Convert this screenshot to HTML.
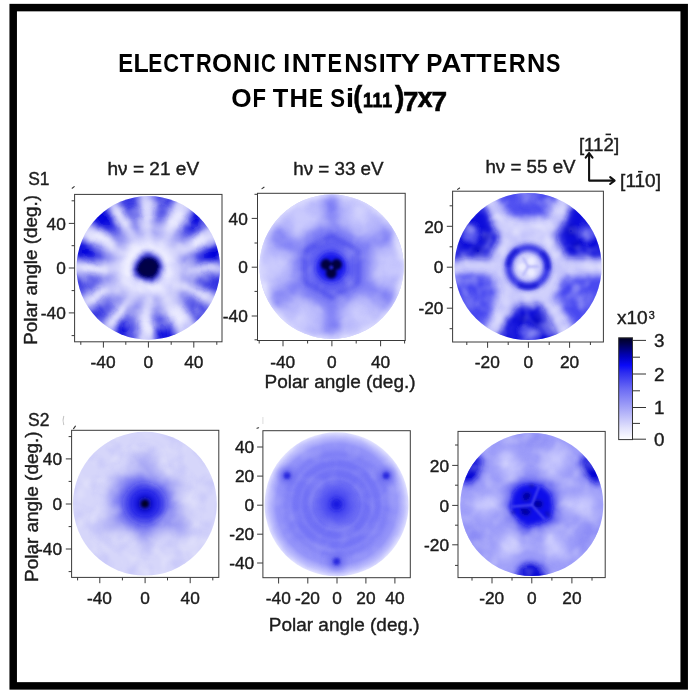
<!DOCTYPE html>
<html><head><meta charset="utf-8"><title>Electronic intensity patterns of the Si(111)7x7</title>
<style>
html,body{margin:0;padding:0;background:#fff;}
body{width:692px;height:699px;overflow:hidden;}
svg{display:block;font-family:"Liberation Sans",sans-serif;}
text{fill:#1c1c1c;stroke:#1c1c1c;stroke-width:0.4px;}
.b{font-weight:bold;fill:#000;stroke:none;}
.b2{font-weight:bold;fill:#000;stroke:#000;stroke-width:0.7px;}
</style></head><body>
<svg width="692" height="699" viewBox="0 0 692 699">
<rect width="692" height="699" fill="#fff"/>
<g style="opacity:0.999">

<defs>
<filter id="bl0_8" x="-50%" y="-50%" width="200%" height="200%"><feGaussianBlur stdDeviation="0.8"/></filter>
<filter id="bl1_5" x="-50%" y="-50%" width="200%" height="200%"><feGaussianBlur stdDeviation="1.5"/></filter>
<filter id="bl2_5" x="-50%" y="-50%" width="200%" height="200%"><feGaussianBlur stdDeviation="2.5"/></filter>
<filter id="bl3_5" x="-50%" y="-50%" width="200%" height="200%"><feGaussianBlur stdDeviation="3.5"/></filter>
<filter id="bl5" x="-50%" y="-50%" width="200%" height="200%"><feGaussianBlur stdDeviation="5"/></filter>
<filter id="bl7" x="-50%" y="-50%" width="200%" height="200%"><feGaussianBlur stdDeviation="7"/></filter>
<clipPath id="cp1"><circle cx="148.3" cy="267.9" r="71.8"/></clipPath>
<clipPath id="cp2"><circle cx="331.6" cy="266.7" r="72.1"/></clipPath>
<clipPath id="cp3"><circle cx="528.1" cy="266.5" r="73.6"/></clipPath>
<clipPath id="cp4"><circle cx="144.9" cy="503.7" r="71.9"/></clipPath>
<clipPath id="cp5"><circle cx="336.6" cy="504.3" r="72.0"/></clipPath>
<clipPath id="cp6"><circle cx="531.8" cy="504.5" r="71.5"/></clipPath>
<filter id="wob" x="-30%" y="-30%" width="160%" height="160%"><feTurbulence type="fractalNoise" baseFrequency="0.045" numOctaves="1" seed="7" result="t"/><feDisplacementMap in="SourceGraphic" in2="t" scale="9" xChannelSelector="R" yChannelSelector="G"/><feGaussianBlur stdDeviation="0.9"/></filter>
<filter id="wob2" x="-30%" y="-30%" width="160%" height="160%"><feTurbulence type="fractalNoise" baseFrequency="0.035" numOctaves="1" seed="11" result="t"/><feDisplacementMap in="SourceGraphic" in2="t" scale="12" xChannelSelector="R" yChannelSelector="G"/><feGaussianBlur stdDeviation="0.9"/></filter>
<filter id="cloudW" x="0" y="0" width="100%" height="100%"><feTurbulence type="fractalNoise" baseFrequency="0.065" numOctaves="2" seed="5"/><feColorMatrix type="matrix" values="0 0 0 0 1  0 0 0 0 1  0 0 0 0 1  3.2 0 0 0 -1.45"/><feGaussianBlur stdDeviation="1.1"/></filter>
<filter id="cloudB" x="0" y="0" width="100%" height="100%"><feTurbulence type="fractalNoise" baseFrequency="0.065" numOctaves="2" seed="23"/><feColorMatrix type="matrix" values="0 0 0 0 0.25  0 0 0 0 0.25  0 0 0 0 0.95  3.2 0 0 0 -1.5"/><feGaussianBlur stdDeviation="1.1"/></filter>
<radialGradient id="rg1" gradientUnits="userSpaceOnUse" cx="148.3" cy="267.9" r="71.8"><stop offset="0.36" stop-color="#1010de" stop-opacity="0"/><stop offset="0.55" stop-color="#1010de" stop-opacity="0.33"/><stop offset="0.72" stop-color="#1010de" stop-opacity="0.8"/><stop offset="0.88" stop-color="#0c0cdc" stop-opacity="1"/><stop offset="1" stop-color="#0c0cdc" stop-opacity="1"/></radialGradient>
<radialGradient id="rg2" gradientUnits="userSpaceOnUse" cx="331.6" cy="266.7" r="72.1"><stop offset="0.36" stop-color="#1010de" stop-opacity="0"/><stop offset="0.55" stop-color="#1010de" stop-opacity="0.33"/><stop offset="0.72" stop-color="#1010de" stop-opacity="0.8"/><stop offset="0.88" stop-color="#0c0cdc" stop-opacity="1"/><stop offset="1" stop-color="#0c0cdc" stop-opacity="1"/></radialGradient>
<radialGradient id="rg3" gradientUnits="userSpaceOnUse" cx="528.1" cy="266.5" r="73.6"><stop offset="0.36" stop-color="#1010de" stop-opacity="0"/><stop offset="0.55" stop-color="#1010de" stop-opacity="0.33"/><stop offset="0.72" stop-color="#1010de" stop-opacity="0.8"/><stop offset="0.88" stop-color="#0c0cdc" stop-opacity="1"/><stop offset="1" stop-color="#0c0cdc" stop-opacity="1"/></radialGradient>
<radialGradient id="rg4" gradientUnits="userSpaceOnUse" cx="144.9" cy="503.7" r="71.9"><stop offset="0.36" stop-color="#1010de" stop-opacity="0"/><stop offset="0.55" stop-color="#1010de" stop-opacity="0.33"/><stop offset="0.72" stop-color="#1010de" stop-opacity="0.8"/><stop offset="0.88" stop-color="#0c0cdc" stop-opacity="1"/><stop offset="1" stop-color="#0c0cdc" stop-opacity="1"/></radialGradient>
<radialGradient id="rg5" gradientUnits="userSpaceOnUse" cx="336.6" cy="504.3" r="72.0"><stop offset="0.36" stop-color="#1010de" stop-opacity="0"/><stop offset="0.55" stop-color="#1010de" stop-opacity="0.33"/><stop offset="0.72" stop-color="#1010de" stop-opacity="0.8"/><stop offset="0.88" stop-color="#0c0cdc" stop-opacity="1"/><stop offset="1" stop-color="#0c0cdc" stop-opacity="1"/></radialGradient>
<radialGradient id="rg6" gradientUnits="userSpaceOnUse" cx="531.8" cy="504.5" r="71.5"><stop offset="0.36" stop-color="#1010de" stop-opacity="0"/><stop offset="0.55" stop-color="#1010de" stop-opacity="0.33"/><stop offset="0.72" stop-color="#1010de" stop-opacity="0.8"/><stop offset="0.88" stop-color="#0c0cdc" stop-opacity="1"/><stop offset="1" stop-color="#0c0cdc" stop-opacity="1"/></radialGradient>
<radialGradient id="rg5b" gradientUnits="userSpaceOnUse" cx="336.6" cy="504.3" r="72.0"><stop offset="0" stop-color="#5c5cf4"/><stop offset="0.3" stop-color="#6e6ef5"/><stop offset="0.6" stop-color="#7a7af7"/><stop offset="0.84" stop-color="#9696f9"/><stop offset="0.94" stop-color="#c0c0fd"/><stop offset="1" stop-color="#e2e2ff"/></radialGradient>
<linearGradient id="cbar" x1="0" y1="0" x2="0" y2="1">
<stop offset="0" stop-color="#000022"/><stop offset="0.06" stop-color="#000050"/><stop offset="0.17" stop-color="#0000b4"/>
<stop offset="0.27" stop-color="#0a0af8"/><stop offset="0.34" stop-color="#2c2cf0"/><stop offset="0.5" stop-color="#6a6af4"/>
<stop offset="0.7" stop-color="#a8a8f8"/><stop offset="0.88" stop-color="#e0e0fc"/><stop offset="1" stop-color="#ffffff"/></linearGradient>
</defs>
<rect x="13.2" y="7.6" width="671" height="678.3" fill="none" stroke="#000" stroke-width="7.5"/>
<text class="b" transform="translate(119.80,72.0) scale(0.838,1)" x="-1.78" y="0" font-size="26.6">E</text>
<text class="b" transform="translate(135.10,72.0) scale(0.938,1)" x="-1.78" y="0" font-size="26.6">L</text>
<text class="b" transform="translate(149.70,72.0) scale(0.791,1)" x="-1.78" y="0" font-size="26.6">E</text>
<text class="b" transform="translate(164.10,72.0) scale(0.822,1)" x="-1.09" y="0" font-size="26.6">C</text>
<text class="b" transform="translate(180.00,72.0) scale(0.887,1)" x="-0.29" y="0" font-size="26.6">T</text>
<text class="b" transform="translate(197.40,72.0) scale(0.818,1)" x="-1.78" y="0" font-size="26.6">R</text>
<text class="b" transform="translate(213.00,72.0) scale(0.968,1)" x="-1.09" y="0" font-size="26.6">O</text>
<text class="b" transform="translate(234.50,72.0) scale(0.997,1)" x="-1.78" y="0" font-size="26.6">N</text>
<text class="b" transform="translate(254.80,72.0) scale(0.940,1)" x="-1.78" y="0" font-size="26.6">I</text>
<text class="b" transform="translate(261.90,72.0) scale(0.770,1)" x="-1.09" y="0" font-size="26.6">C</text>
<text class="b" transform="translate(284.80,72.0) scale(0.940,1)" x="-1.78" y="0" font-size="26.6">I</text>
<text class="b" transform="translate(293.50,72.0) scale(0.997,1)" x="-1.78" y="0" font-size="26.6">N</text>
<text class="b" transform="translate(311.70,72.0) scale(0.887,1)" x="-0.29" y="0" font-size="26.6">T</text>
<text class="b" transform="translate(329.00,72.0) scale(0.818,1)" x="-1.78" y="0" font-size="26.6">E</text>
<text class="b" transform="translate(345.90,72.0) scale(0.953,1)" x="-1.78" y="0" font-size="26.6">N</text>
<text class="b" transform="translate(364.10,72.0) scale(0.772,1)" x="-0.77" y="0" font-size="26.6">S</text>
<text class="b" transform="translate(380.40,72.0) scale(0.940,1)" x="-1.78" y="0" font-size="26.6">I</text>
<text class="b" transform="translate(386.20,72.0) scale(0.951,1)" x="-0.29" y="0" font-size="26.6">T</text>
<text class="b" transform="translate(400.90,72.0) scale(1.109,1)" x="-0.45" y="0" font-size="26.6">Y</text>
<text class="b" transform="translate(427.90,72.0) scale(0.910,1)" x="-1.78" y="0" font-size="26.6">P</text>
<text class="b" transform="translate(441.90,72.0) scale(1.059,1)" x="-0.67" y="0" font-size="26.6">A</text>
<text class="b" transform="translate(460.80,72.0) scale(0.951,1)" x="-0.29" y="0" font-size="26.6">T</text>
<text class="b" transform="translate(476.40,72.0) scale(0.957,1)" x="-0.29" y="0" font-size="26.6">T</text>
<text class="b" transform="translate(494.50,72.0) scale(0.797,1)" x="-1.78" y="0" font-size="26.6">E</text>
<text class="b" transform="translate(510.40,72.0) scale(0.884,1)" x="-1.78" y="0" font-size="26.6">R</text>
<text class="b" transform="translate(528.60,72.0) scale(0.953,1)" x="-1.78" y="0" font-size="26.6">N</text>
<text class="b" transform="translate(546.60,72.0) scale(0.810,1)" x="-0.77" y="0" font-size="26.6">S</text>
<text class="b" transform="translate(232.20,106.9) scale(0.984,1)" x="-1.09" y="0" font-size="26.6">O</text>
<text class="b" transform="translate(253.90,106.9) scale(0.830,1)" x="-1.78" y="0" font-size="26.6">F</text>
<text class="b" transform="translate(273.10,106.9) scale(0.957,1)" x="-0.29" y="0" font-size="26.6">T</text>
<text class="b" transform="translate(291.30,106.9) scale(0.959,1)" x="-1.78" y="0" font-size="26.6">H</text>
<text class="b" transform="translate(310.40,106.9) scale(0.784,1)" x="-1.78" y="0" font-size="26.6">E</text>
<text class="b" transform="translate(331.00,106.9) scale(0.835,1)" x="-0.77" y="0" font-size="26.6">S</text>
<text class="b" transform="translate(348.00,106.9) scale(1.153,1)" x="-1.86" y="0" font-size="26.6">i</text>
<text class="b" transform="translate(354.70,106.9) scale(0.892,1)" x="-1.51" y="0" font-size="30.2" style="stroke:#000;stroke-width:0.5px">(</text>
<text class="b" transform="translate(364.00,106.8) scale(0.866,1)" x="-1.30" y="0" font-size="20.6" style="stroke:#000;stroke-width:0.8px">1</text>
<text class="b" transform="translate(373.70,106.8) scale(0.866,1)" x="-1.30" y="0" font-size="20.6" style="stroke:#000;stroke-width:0.8px">1</text>
<text class="b" transform="translate(383.40,106.8) scale(0.866,1)" x="-1.30" y="0" font-size="20.6" style="stroke:#000;stroke-width:0.8px">1</text>
<text class="b" transform="translate(394.90,106.9) scale(0.939,1)" x="-0.03" y="0" font-size="30.2" style="stroke:#000;stroke-width:0.5px">)</text>
<text class="b" transform="translate(404.20,111.3) scale(1.027,1)" x="-1.16" y="0" font-size="27.0" style="stroke:#000;stroke-width:0.5px">7</text>
<text class="b" transform="translate(417.90,106.8) scale(0.972,1)" x="-0.19" y="0" font-size="27.2" style="stroke:#000;stroke-width:0.7px">x</text>
<text class="b" transform="translate(432.80,111.3) scale(1.042,1)" x="-1.16" y="0" font-size="27.0" style="stroke:#000;stroke-width:0.5px">7</text>
<text x="107.5" y="174.6" font-size="18.8" textLength="91.6" lengthAdjust="spacingAndGlyphs">hν = 21 eV</text>
<text x="293.2" y="174.6" font-size="18.8" textLength="90.4" lengthAdjust="spacingAndGlyphs">hν = 33 eV</text>
<text x="485.4" y="173.3" font-size="18.8" textLength="90.2" lengthAdjust="spacingAndGlyphs">hν = 55 eV</text>
<text x="28.2" y="184.8" font-size="18.6" textLength="21.3" lengthAdjust="spacingAndGlyphs">S1</text>
<text x="28.1" y="425.5" font-size="18.6" textLength="21.4" lengthAdjust="spacingAndGlyphs">S2</text>
<g fill="none" stroke="#111" stroke-width="2.1" stroke-linecap="round" stroke-linejoin="round"><path d="M589.1,153.6V180.6H613.6"/><path d="M585.7,157.6L589.1,153.2L592.5,157.6"/><path d="M610.2,177.2L614.6,180.6L610.2,184"/></g>
<text x="578.9" y="150.6" font-size="17.8" textLength="40.2" lengthAdjust="spacingAndGlyphs">[112]</text>
<rect x="605.6" y="133.6" width="5.4" height="1.6" fill="#1c1c1c"/>
<text x="620.1" y="187.3" font-size="17.8" textLength="40.9" lengthAdjust="spacingAndGlyphs">[110]</text>
<rect x="638.0" y="170.9" width="4.6" height="1.6" fill="#1c1c1c"/>
<path d="M72.2,188.2l2,-1.6M262,188.6l2,-1.4M457.6,189.4l2,-1.4M73.6,428.6l1.8,-2.4M257,428.3l1.6,-0.6" stroke="#333" stroke-width="1.1" fill="none" stroke-linecap="round"/>
<path d="M63.8,416Q62.2,420.5 63.8,425" stroke="#c4c4c4" stroke-width="1.1" fill="none"/>
<path d="M262.9,417v7" stroke="#dcdcdc" stroke-width="1" fill="none"/>
<rect x="74.6" y="194.4" width="147.4" height="147.4" fill="#fff" stroke="#3a3a3a" stroke-width="1"/>
<path d="M103.4,341.8v5.8M148.4,341.8v5.8M193.8,341.8v5.8M80.8,341.8v3.0M125.8,341.8v3.0M171.2,341.8v3.0M216.8,341.8v3.0M74.6,223.4h-5.8M74.6,268h-5.8M74.6,312.9h-5.8M74.6,200.8h-3.0M74.6,245.7h-3.0M74.6,290.6h-3.0M74.6,335.6h-3.0" stroke="#3a3a3a" stroke-width="1" fill="none"/>
<text x="103.10000000000001" y="368.2" font-size="17.3" text-anchor="middle">-40</text>
<text x="148.4" y="368.2" font-size="17.3" text-anchor="middle">0</text>
<text x="193.8" y="368.2" font-size="17.3" text-anchor="middle">40</text>
<text x="65.8" y="229.6" font-size="17.3" text-anchor="end">40</text>
<text x="65.8" y="274.2" font-size="17.3" text-anchor="end">0</text>
<text x="65.8" y="319.09999999999997" font-size="17.3" text-anchor="end">-40</text>
<rect x="257.5" y="193.3" width="147.7" height="147.2" fill="#fff" stroke="#3a3a3a" stroke-width="1"/>
<path d="M283,340.5v5.8M331.9,340.5v5.8M380.6,340.5v5.8M259.2,340.5v3.0M307.6,340.5v3.0M356.2,340.5v3.0M404.6,340.5v3.0M257.5,218.4h-5.8M257.5,267.2h-5.8M257.5,316h-5.8M257.5,194.3h-3.0M257.5,243h-3.0M257.5,291.4h-3.0M257.5,339.8h-3.0" stroke="#3a3a3a" stroke-width="1" fill="none"/>
<text x="282.7" y="367.8" font-size="17.3" text-anchor="middle">-40</text>
<text x="331.9" y="367.8" font-size="17.3" text-anchor="middle">0</text>
<text x="380.6" y="367.8" font-size="17.3" text-anchor="middle">40</text>
<text x="247.8" y="224.6" font-size="17.3" text-anchor="end">40</text>
<text x="247.8" y="273.4" font-size="17.3" text-anchor="end">0</text>
<text x="247.8" y="322.2" font-size="17.3" text-anchor="end">-40</text>
<rect x="452.6" y="191.2" width="150.8" height="150.8" fill="#fff" stroke="#3a3a3a" stroke-width="1"/>
<path d="M487.6,342.0v5.8M528.4,342.0v5.8M569.6,342.0v5.8M466.8,342.0v3.0M508.2,342.0v3.0M549.2,342.0v3.0M590.4,342.0v3.0M452.6,226.3h-5.8M452.6,267.2h-5.8M452.6,308.2h-5.8M452.6,205.8h-3.0M452.6,246.8h-3.0M452.6,287.7h-3.0M452.6,328.7h-3.0" stroke="#3a3a3a" stroke-width="1" fill="none"/>
<text x="487.3" y="368.2" font-size="17.3" text-anchor="middle">-20</text>
<text x="528.4" y="368.2" font-size="17.3" text-anchor="middle">0</text>
<text x="569.6" y="368.2" font-size="17.3" text-anchor="middle">20</text>
<text x="443.4" y="232.5" font-size="17.3" text-anchor="end">20</text>
<text x="443.4" y="273.4" font-size="17.3" text-anchor="end">0</text>
<text x="443.4" y="314.4" font-size="17.3" text-anchor="end">-20</text>
<rect x="71.6" y="430.3" width="147.2" height="147.1" fill="#fff" stroke="#3a3a3a" stroke-width="1"/>
<path d="M99.8,577.4v5.8M145.1,577.4v5.8M190.2,577.4v5.8M77.6,577.4v3.0M122.4,577.4v3.0M167.5,577.4v3.0M212.8,577.4v3.0M71.6,458.9h-5.8M71.6,504h-5.8M71.6,549h-5.8M71.6,436.6h-3.0M71.6,481.4h-3.0M71.6,526.6h-3.0M71.6,571.6h-3.0" stroke="#3a3a3a" stroke-width="1" fill="none"/>
<text x="99.5" y="603.5" font-size="17.3" text-anchor="middle">-40</text>
<text x="145.1" y="603.5" font-size="17.3" text-anchor="middle">0</text>
<text x="190.2" y="603.5" font-size="17.3" text-anchor="middle">40</text>
<text x="62.0" y="465.09999999999997" font-size="17.3" text-anchor="end">40</text>
<text x="62.0" y="510.2" font-size="17.3" text-anchor="end">0</text>
<text x="62.0" y="555.2" font-size="17.3" text-anchor="end">-40</text>
<rect x="262.9" y="430.7" width="147.4" height="147.0" fill="#fff" stroke="#3a3a3a" stroke-width="1"/>
<path d="M278.6,577.7v5.8M307.8,577.7v5.8M337.0,577.7v5.8M365.9,577.7v5.8M394.9,577.7v5.8M262.9,447.0h-5.8M262.9,476.1h-5.8M262.9,505.2h-5.8M262.9,534.2h-5.8M262.9,563.0h-5.8" stroke="#3a3a3a" stroke-width="1" fill="none"/>
<text x="278.3" y="603.5" font-size="17.3" text-anchor="middle">-40</text>
<text x="307.5" y="603.5" font-size="17.3" text-anchor="middle">-20</text>
<text x="337.0" y="603.5" font-size="17.3" text-anchor="middle">0</text>
<text x="365.9" y="603.5" font-size="17.3" text-anchor="middle">20</text>
<text x="394.9" y="603.5" font-size="17.3" text-anchor="middle">40</text>
<text x="254.2" y="453.2" font-size="17.3" text-anchor="end">40</text>
<text x="254.2" y="482.3" font-size="17.3" text-anchor="end">20</text>
<text x="254.2" y="511.4" font-size="17.3" text-anchor="end">0</text>
<text x="254.2" y="540.4000000000001" font-size="17.3" text-anchor="end">-20</text>
<text x="254.2" y="569.2" font-size="17.3" text-anchor="end">-40</text>
<rect x="458.0" y="431.4" width="147.2" height="146.2" fill="#fff" stroke="#3a3a3a" stroke-width="1"/>
<path d="M492,577.6v5.8M531.8,577.6v5.8M571.9,577.6v5.8M472,577.6v3.0M512,577.6v3.0M551.9,577.6v3.0M592,577.6v3.0M458.0,465.4h-5.8M458.0,505.4h-5.8M458.0,544.8h-5.8M458.0,445h-3.0M458.0,485.2h-3.0M458.0,525.2h-3.0M458.0,565.4h-3.0" stroke="#3a3a3a" stroke-width="1" fill="none"/>
<text x="491.7" y="603.5" font-size="17.3" text-anchor="middle">-20</text>
<text x="531.8" y="603.5" font-size="17.3" text-anchor="middle">0</text>
<text x="571.9" y="603.5" font-size="17.3" text-anchor="middle">20</text>
<text x="449.1" y="471.59999999999997" font-size="17.3" text-anchor="end">20</text>
<text x="449.1" y="511.59999999999997" font-size="17.3" text-anchor="end">0</text>
<text x="449.1" y="551.0" font-size="17.3" text-anchor="end">-20</text>
<text x="264.6" y="387.8" font-size="19.2" textLength="151" lengthAdjust="spacingAndGlyphs">Polar angle (deg.)</text>
<text x="268.8" y="631.4" font-size="19.2" textLength="150.8" lengthAdjust="spacingAndGlyphs">Polar angle (deg.)</text>
<text transform="translate(37.4,344.7) rotate(-90)" font-size="18.8" textLength="149.6" lengthAdjust="spacingAndGlyphs">Polar angle (deg.)</text>
<text transform="translate(37.5,582.0) rotate(-90)" font-size="18.8" textLength="150.6" lengthAdjust="spacingAndGlyphs">Polar angle (deg.)</text>
<rect x="618.7" y="337.8" width="13.8" height="101.8" fill="url(#cbar)" stroke="#333" stroke-width="1"/>
<path d="M632.6,340.4h13.4M632.6,374h13.4M632.6,407.5h13.4M632.6,439.2h13.4M632.6,357.2h7.4M632.6,390.8h7.4M632.6,423.4h7.4" stroke="#333" stroke-width="1" fill="none"/>
<text x="654.0" y="347.09999999999997" font-size="18.8">3</text>
<text x="654.0" y="380.7" font-size="18.8">2</text>
<text x="654.0" y="414.2" font-size="18.8">1</text>
<text x="654.0" y="445.9" font-size="18.8">0</text>
<text x="616.9" y="323.9" font-size="19" textLength="30.8" lengthAdjust="spacingAndGlyphs">x10</text>
<text x="648.7" y="318.7" font-size="10.8">3</text>
<g clip-path="url(#cp1)">
<circle cx="148.3" cy="267.9" r="72.8" fill="#ececff"/>
<g filter="url(#wob)">
<g filter="url(#bl5)">
<circle cx="148.3" cy="267.9" r="72.8" fill="none" stroke="#b0b0f8" stroke-width="7"/>
<circle cx="148.3" cy="267.9" r="35.9" fill="none" stroke="#d6d6fc" stroke-width="16"/>
</g>
<g filter="url(#bl3_5)">
<path d="M174.1,266.1L234.3,261.9A86.2,86.2 0 0 0 229.3,238.4L172.6,259.1A25.8,25.8 0 0 1 174.1,266.1Z" fill="url(#rg1)" opacity="1.0"/>
<path d="M169.2,252.7L218.0,217.3A86.2,86.2 0 0 0 201.3,200.0L164.2,247.5A25.8,25.8 0 0 1 169.2,252.7Z" fill="url(#rg1)" opacity="0.95"/>
<path d="M157.6,243.8L179.2,187.5A86.2,86.2 0 0 0 155.8,182.1L150.6,242.2A25.8,25.8 0 0 1 157.6,243.8Z" fill="url(#rg1)" opacity="0.8"/>
<path d="M144.7,242.3L136.3,182.6A86.2,86.2 0 0 0 113.3,189.2L137.8,244.3A25.8,25.8 0 0 1 144.7,242.3Z" fill="url(#rg1)" opacity="0.8"/>
<path d="M133.5,246.7L98.9,197.3A86.2,86.2 0 0 0 81.3,213.7L128.2,251.6A25.8,25.8 0 0 1 133.5,246.7Z" fill="url(#rg1)" opacity="1.0"/>
<path d="M124.5,257.8L69.0,234.2A86.2,86.2 0 0 0 62.8,257.4L122.6,264.7A25.8,25.8 0 0 1 124.5,257.8Z" fill="url(#rg1)" opacity="0.92"/>
<path d="M122.6,271.1L62.8,278.4A86.2,86.2 0 0 0 69.0,301.6L124.5,278.0A25.8,25.8 0 0 1 122.6,271.1Z" fill="url(#rg1)" opacity="0.75"/>
<path d="M127.1,282.7L77.7,317.3A86.2,86.2 0 0 0 94.1,334.9L132.0,288.0A25.8,25.8 0 0 1 127.1,282.7Z" fill="url(#rg1)" opacity="0.78"/>
<path d="M136.6,290.9L109.2,344.7A86.2,86.2 0 0 0 131.9,352.5L143.4,293.3A25.8,25.8 0 0 1 136.6,290.9Z" fill="url(#rg1)" opacity="0.92"/>
<path d="M151.0,293.6L157.3,353.6A86.2,86.2 0 0 0 180.6,347.8L158.0,291.9A25.8,25.8 0 0 1 151.0,293.6Z" fill="url(#rg1)" opacity="0.97"/>
<path d="M165.3,287.4L204.8,332.9A86.2,86.2 0 0 0 220.6,314.8L170.0,282.0A25.8,25.8 0 0 1 165.3,287.4Z" fill="url(#rg1)" opacity="0.75"/>
<path d="M172.3,277.6L228.2,300.2A86.2,86.2 0 0 0 234.0,276.9L174.0,270.6A25.8,25.8 0 0 1 172.3,277.6Z" fill="url(#rg1)" opacity="0.82"/>
</g>
<g filter="url(#bl2_5)">
<ellipse cx="211.5" cy="254.5" rx="9" ry="4.5" transform="rotate(-12.0 211.5 254.5)" fill="#0808dc" opacity="0.8"/>
<ellipse cx="194.8" cy="223.0" rx="9" ry="4.5" transform="rotate(-44.0 194.8 223.0)" fill="#0808dc" opacity="0.8"/>
<ellipse cx="104.2" cy="220.6" rx="9" ry="4.5" transform="rotate(-133.0 104.2 220.6)" fill="#0808dc" opacity="0.8"/>
<ellipse cx="85.9" cy="251.2" rx="9" ry="4.5" transform="rotate(-165.0 85.9 251.2)" fill="#0808dc" opacity="0.8"/>
<ellipse cx="127.3" cy="329.0" rx="9" ry="4.5" transform="rotate(-251.0 127.3 329.0)" fill="#0808dc" opacity="0.8"/>
<ellipse cx="163.9" cy="330.6" rx="9" ry="4.5" transform="rotate(-284.0 163.9 330.6)" fill="#0808dc" opacity="0.8"/>
</g>
</g>
<rect x="74.5" y="194.1" width="147.6" height="147.6" filter="url(#cloudW)" opacity="0.3"/>
<rect x="74.5" y="194.1" width="147.6" height="147.6" filter="url(#cloudB)" opacity="0.14"/>
<g filter="url(#wob)">
<circle cx="148.3" cy="267.9" r="14.5" fill="#2424dc" filter="url(#bl2_5)"/>
<circle cx="148.3" cy="267.9" r="11" fill="#000046" filter="url(#bl1_5)"/>
</g>
</g>
<g clip-path="url(#cp2)">
<circle cx="331.6" cy="266.7" r="73.1" fill="#b6b6fb"/>
<g filter="url(#wob2)">
<circle cx="331.6" cy="266.7" r="74.1" fill="none" stroke="#e8e8ff" stroke-width="10" filter="url(#bl3_5)"/>
<g filter="url(#bl5)">
<ellipse cx="389.3" cy="266.7" rx="12" ry="11" transform="rotate(0.0 389.3 266.7)" fill="#d2d2fd" opacity="0.75"/>
<ellipse cx="360.4" cy="216.7" rx="12" ry="11" transform="rotate(-60.0 360.4 216.7)" fill="#d2d2fd" opacity="0.75"/>
<ellipse cx="302.8" cy="216.7" rx="12" ry="11" transform="rotate(-120.0 302.8 216.7)" fill="#d2d2fd" opacity="0.75"/>
<ellipse cx="273.9" cy="266.7" rx="12" ry="11" transform="rotate(-180.0 273.9 266.7)" fill="#d2d2fd" opacity="0.75"/>
<ellipse cx="302.8" cy="316.7" rx="12" ry="11" transform="rotate(-240.0 302.8 316.7)" fill="#d2d2fd" opacity="0.75"/>
<ellipse cx="360.4" cy="316.7" rx="12" ry="11" transform="rotate(-300.0 360.4 316.7)" fill="#d2d2fd" opacity="0.75"/>
<path d="M331.6,266.7L392.2,231.7" stroke="#7c7cf6" stroke-width="12" fill="none"/>
<path d="M331.6,266.7L331.6,196.8" stroke="#7c7cf6" stroke-width="12" fill="none"/>
<path d="M331.6,266.7L271.0,231.7" stroke="#7c7cf6" stroke-width="12" fill="none"/>
<path d="M331.6,266.7L271.0,301.7" stroke="#7c7cf6" stroke-width="12" fill="none"/>
<path d="M331.6,266.7L331.6,336.6" stroke="#7c7cf6" stroke-width="12" fill="none"/>
<path d="M331.6,266.7L392.2,301.7" stroke="#7c7cf6" stroke-width="12" fill="none"/>
<circle cx="331.6" cy="266.7" r="41" fill="#7a7af5"/>
</g>
<g filter="url(#bl3_5)">
<circle cx="331.6" cy="266.7" r="25" fill="#5c5cf2"/>
<circle cx="384.0" cy="236.4" r="5" fill="#6e6ef2" opacity="0.5"/>
<circle cx="331.6" cy="206.1" r="5" fill="#6e6ef2" opacity="0.5"/>
<circle cx="279.2" cy="236.4" r="5" fill="#6e6ef2" opacity="0.5"/>
<circle cx="279.2" cy="297.0" r="5" fill="#6e6ef2" opacity="0.5"/>
<circle cx="331.6" cy="327.3" r="5" fill="#6e6ef2" opacity="0.5"/>
<circle cx="384.0" cy="297.0" r="5" fill="#6e6ef2" opacity="0.5"/>
</g>
</g>
<polygon points="358.4,251.2 331.6,235.7 304.8,251.2 304.8,282.2 331.6,297.7 358.4,282.2" fill="none" stroke="#3a3ae8" stroke-width="3.2" filter="url(#bl2_5)" opacity="0.85"/>
<rect x="257.5" y="192.6" width="148.2" height="148.2" filter="url(#cloudW)" opacity="0.15"/>
<rect x="257.5" y="192.6" width="148.2" height="148.2" filter="url(#cloudB)" opacity="0.1"/>
<circle cx="331.3" cy="267.09999999999997" r="15" fill="#1818ee" filter="url(#bl2_5)"/>
<g filter="url(#bl1_5)">
<circle cx="326.1" cy="264.49999999999994" r="5.4" fill="#00003c"/>
<circle cx="336.5" cy="264.49999999999994" r="5.4" fill="#00003c"/>
<circle cx="331.3" cy="273.09999999999997" r="5.4" fill="#00003c"/>
</g>
<circle cx="331.3" cy="267.5" r="2" fill="#2828d0" filter="url(#bl0_8)"/>
</g>
<g clip-path="url(#cp3)">
<circle cx="528.1" cy="266.5" r="74.6" fill="#d0d0fc"/>
<g filter="url(#wob)">
<g filter="url(#bl3_5)">
<path d="M566.8,257.5L645.3,257.5L594.5,169.5L555.2,237.5Z" fill="#1010da" opacity="1"/>
<path d="M546.0,217.5L578.9,160.5L477.3,160.5L510.2,217.5Z" fill="#3a3aee" opacity="0.9"/>
<path d="M501.0,237.5L461.7,169.5L410.9,257.5L489.4,257.5Z" fill="#1010da" opacity="1"/>
<path d="M489.4,275.5L410.9,275.5L461.7,363.5L501.0,295.5Z" fill="#3636ee" opacity="0.9"/>
<path d="M516.6,304.5L477.3,372.5L578.9,372.5L539.6,304.5Z" fill="#1010da" opacity="1"/>
<path d="M555.2,295.5L594.5,363.5L645.3,275.5L566.8,275.5Z" fill="#3636ee" opacity="0.88"/>
</g>
<g filter="url(#bl2_5)">
<ellipse cx="586.7" cy="232.6" rx="7" ry="9" transform="rotate(-30.0 586.7 232.6)" fill="#7070f2" opacity="0.85"/>
<ellipse cx="469.5" cy="232.6" rx="7" ry="9" transform="rotate(-150.0 469.5 232.6)" fill="#7070f2" opacity="0.85"/>
<ellipse cx="528.1" cy="334.2" rx="7" ry="9" transform="rotate(-270.0 528.1 334.2)" fill="#7070f2" opacity="0.85"/>
<ellipse cx="528.1" cy="198.1" rx="6" ry="10" transform="rotate(-90.0 528.1 198.1)" fill="#8a8af4" opacity="0.5"/>
<ellipse cx="468.8" cy="300.7" rx="6" ry="10" transform="rotate(-210.0 468.8 300.7)" fill="#8a8af4" opacity="0.5"/>
<ellipse cx="587.4" cy="300.7" rx="6" ry="10" transform="rotate(-330.0 587.4 300.7)" fill="#8a8af4" opacity="0.5"/>
</g>
<g filter="url(#bl2_5)" fill="#0000b4" opacity="0.55">
<ellipse cx="569.2" cy="230.8" rx="6" ry="4.5" transform="rotate(-41.0 569.2 230.8)" fill="#0000b4" opacity="1"/>
<ellipse cx="576.5" cy="244.9" rx="5" ry="4" transform="rotate(-24.0 576.5 244.9)" fill="#0000b4" opacity="1"/>
<ellipse cx="476.6" cy="248.8" rx="6" ry="4.5" transform="rotate(-161.0 476.6 248.8)" fill="#0000b4" opacity="1"/>
<ellipse cx="485.2" cy="235.4" rx="5" ry="4" transform="rotate(-144.0 485.2 235.4)" fill="#0000b4" opacity="1"/>
<ellipse cx="538.5" cy="320.0" rx="6" ry="4.5" transform="rotate(-281.0 538.5 320.0)" fill="#0000b4" opacity="1"/>
<ellipse cx="522.6" cy="319.2" rx="5" ry="4" transform="rotate(-264.0 522.6 319.2)" fill="#0000b4" opacity="1"/>
</g>
</g>
<rect x="452.5" y="190.9" width="151.2" height="151.2" filter="url(#cloudW)" opacity="0.3"/>
<rect x="452.5" y="190.9" width="151.2" height="151.2" filter="url(#cloudB)" opacity="0.15"/>
<circle cx="528.1" cy="266.9" r="19.3" fill="none" stroke="#2020e2" stroke-width="7.4" filter="url(#bl2_5)" opacity="0.95"/>
<g filter="url(#bl1_5)" fill="none" stroke="#0c0cd0" stroke-width="5" opacity="0.7">
<path d="M517.5,249.9A20,20 0 0 0 508.1,266.2"/>
<path d="M518.7,284.6A20,20 0 0 0 537.5,284.6"/>
<path d="M547.9,269.7A20,20 0 0 0 541.5,252.0"/>
</g>
<circle cx="528.1" cy="266.9" r="11.5" fill="#d4d4fd" filter="url(#bl1_5)" opacity="0.8"/>
<g filter="url(#bl1_5)" fill="#f0f0ff" opacity="0.9">
<circle cx="531.2" cy="261.4" r="4"/>
<circle cx="521.8" cy="266.9" r="4"/>
<circle cx="531.2" cy="272.4" r="4"/>
</g>
<g filter="url(#bl0_8)" stroke="#9c9cf4" stroke-width="1.2" fill="none" opacity="0.8">
<path d="M528.1,266.5L522.6,257.0"/>
<path d="M528.1,266.5L522.6,276.0"/>
<path d="M528.1,266.5L539.1,266.5"/>
</g>
</g>
<g clip-path="url(#cp4)">
<circle cx="144.9" cy="503.7" r="72.9" fill="#d6d6fa"/>
<g filter="url(#wob2)">
<g filter="url(#bl7)">
<path d="M144.9,503.7L144.9,454.8" stroke="#9696f3" stroke-width="15" fill="none"/>
<path d="M144.9,503.7L102.6,528.1" stroke="#9696f3" stroke-width="15" fill="none"/>
<path d="M144.9,503.7L187.2,528.1" stroke="#9696f3" stroke-width="15" fill="none"/>
<path d="M144.9,503.7L181.0,482.8" stroke="#a2a2f4" stroke-width="13" fill="none"/>
<path d="M144.9,503.7L108.8,482.8" stroke="#a2a2f4" stroke-width="13" fill="none"/>
<path d="M144.9,503.7L144.9,545.4" stroke="#a2a2f4" stroke-width="13" fill="none"/>
<circle cx="144.9" cy="503.7" r="30" fill="#6868f0"/>
</g>
</g>
<rect x="71.0" y="429.8" width="147.8" height="147.8" filter="url(#cloudW)" opacity="0.2"/>
<rect x="71.0" y="429.8" width="147.8" height="147.8" filter="url(#cloudB)" opacity="0.16"/>
<circle cx="144.9" cy="503.7" r="18" fill="#1a1ae6" filter="url(#bl5)"/>
<circle cx="144.9" cy="503.7" r="7" fill="#0808b0" filter="url(#bl2_5)"/>
<circle cx="144.9" cy="503.7" r="3.8" fill="#000024" filter="url(#bl1_5)"/>
</g>
<g clip-path="url(#cp5)">
<circle cx="336.6" cy="504.3" r="73.0" fill="url(#rg5b)"/>
<circle cx="336.6" cy="504.3" r="21" fill="none" stroke="#6262f0" stroke-width="2.6" filter="url(#bl1_5)" opacity="0.2"/>
<circle cx="336.6" cy="504.3" r="31" fill="none" stroke="#6262f0" stroke-width="2.6" filter="url(#bl1_5)" opacity="0.2"/>
<circle cx="336.6" cy="504.3" r="41" fill="none" stroke="#6262f0" stroke-width="2.6" filter="url(#bl1_5)" opacity="0.2"/>
<circle cx="336.6" cy="504.3" r="51" fill="none" stroke="#6262f0" stroke-width="2.6" filter="url(#bl1_5)" opacity="0.2"/>
<circle cx="336.6" cy="504.3" r="26" fill="none" stroke="#a8a8fa" stroke-width="2.4" filter="url(#bl1_5)" opacity="0.18"/>
<circle cx="336.6" cy="504.3" r="36" fill="none" stroke="#a8a8fa" stroke-width="2.4" filter="url(#bl1_5)" opacity="0.18"/>
<circle cx="336.6" cy="504.3" r="46" fill="none" stroke="#a8a8fa" stroke-width="2.4" filter="url(#bl1_5)" opacity="0.18"/>
<rect x="262.6" y="430.3" width="148.0" height="148.0" filter="url(#cloudW)" opacity="0.1"/>
<rect x="262.6" y="430.3" width="148.0" height="148.0" filter="url(#cloudB)" opacity="0.1"/>
<circle cx="336.6" cy="504.3" r="15" fill="#4444f0" filter="url(#bl5)"/>
<circle cx="336.6" cy="504.3" r="6" fill="#1818e0" filter="url(#bl2_5)"/>
<circle cx="386.1" cy="475.7" r="8" fill="#6a6af0" filter="url(#bl3_5)"/>
<circle cx="386.1" cy="475.7" r="3.4" fill="#2626de" filter="url(#bl1_5)"/>
<circle cx="287.1" cy="475.7" r="8" fill="#6a6af0" filter="url(#bl3_5)"/>
<circle cx="287.1" cy="475.7" r="3.4" fill="#2626de" filter="url(#bl1_5)"/>
<circle cx="336.6" cy="561.5" r="8" fill="#6a6af0" filter="url(#bl3_5)"/>
<circle cx="336.6" cy="561.5" r="3.4" fill="#2626de" filter="url(#bl1_5)"/>
</g>
<g clip-path="url(#cp6)">
<circle cx="531.8" cy="504.5" r="72.5" fill="#9e9ef9"/>
<g filter="url(#wob)">
<g filter="url(#bl5)">
<ellipse cx="579.0" cy="504.5" rx="15" ry="9" transform="rotate(0.0 579.0 504.5)" fill="#d4d4fe" opacity="0.85"/>
<ellipse cx="555.4" cy="463.6" rx="15" ry="9" transform="rotate(-60.0 555.4 463.6)" fill="#d4d4fe" opacity="0.85"/>
<ellipse cx="508.2" cy="463.6" rx="15" ry="9" transform="rotate(-120.0 508.2 463.6)" fill="#d4d4fe" opacity="0.85"/>
<ellipse cx="484.6" cy="504.5" rx="15" ry="9" transform="rotate(-180.0 484.6 504.5)" fill="#d4d4fe" opacity="0.85"/>
<ellipse cx="508.2" cy="545.4" rx="15" ry="9" transform="rotate(-240.0 508.2 545.4)" fill="#d4d4fe" opacity="0.85"/>
<ellipse cx="555.4" cy="545.4" rx="15" ry="9" transform="rotate(-300.0 555.4 545.4)" fill="#d4d4fe" opacity="0.85"/>
<ellipse cx="531.8" cy="438.7" rx="8" ry="15" transform="rotate(-90.0 531.8 438.7)" fill="#8a8af5" opacity="0.9"/>
<ellipse cx="474.8" cy="537.4" rx="8" ry="15" transform="rotate(-210.0 474.8 537.4)" fill="#8a8af5" opacity="0.9"/>
<ellipse cx="588.8" cy="537.4" rx="8" ry="15" transform="rotate(-330.0 588.8 537.4)" fill="#8a8af5" opacity="0.9"/>
<circle cx="531.8" cy="504.5" r="29" fill="#6060f0"/>
</g>
<g filter="url(#bl3_5)">
<ellipse cx="593.1" cy="469.1" rx="11" ry="16" transform="rotate(-30.0 593.1 469.1)" fill="#1010dc" opacity="1"/>
<ellipse cx="470.5" cy="469.1" rx="11" ry="16" transform="rotate(-150.0 470.5 469.1)" fill="#1010dc" opacity="1"/>
<ellipse cx="531.8" cy="575.3" rx="11" ry="16" transform="rotate(-270.0 531.8 575.3)" fill="#1010dc" opacity="1"/>
</g>
<g filter="url(#bl2_5)">
<ellipse cx="591.9" cy="469.8" rx="6" ry="10" transform="rotate(-30.0 591.9 469.8)" fill="#0606d0" opacity="0.9"/>
<ellipse cx="471.7" cy="469.8" rx="6" ry="10" transform="rotate(-150.0 471.7 469.8)" fill="#0606d0" opacity="0.9"/>
<ellipse cx="531.8" cy="573.9" rx="6" ry="10" transform="rotate(-270.0 531.8 573.9)" fill="#0606d0" opacity="0.9"/>
</g>
</g>
<rect x="458.3" y="431.0" width="147.0" height="147.0" filter="url(#cloudW)" opacity="0.22"/>
<rect x="458.3" y="431.0" width="147.0" height="147.0" filter="url(#cloudB)" opacity="0.16"/>
<g filter="url(#wob)">
<circle cx="531.8" cy="504.5" r="21.5" fill="#0c0cea" filter="url(#bl2_5)"/>
<g filter="url(#bl1_5)" fill="#00008c" opacity="0.85">
<circle cx="526.9" cy="497.2" r="4"/>
<circle cx="538.5" cy="505.1" r="4"/>
<circle cx="526.3" cy="511.2" r="4"/>
<circle cx="531.8" cy="485.5" r="2"/>
<circle cx="513.8" cy="513.0" r="2"/>
<circle cx="546.4" cy="514.8" r="2"/>
</g>
</g>
<g filter="url(#bl0_8)" stroke="#5050f2" stroke-width="1.8" fill="none">
<path d="M531.8,505.0L539.3,486.0"/>
<path d="M531.8,505.0L511.9,506.6"/>
<path d="M531.8,505.0L544.9,519.6"/>
</g>
</g>
</g></svg></body></html>
